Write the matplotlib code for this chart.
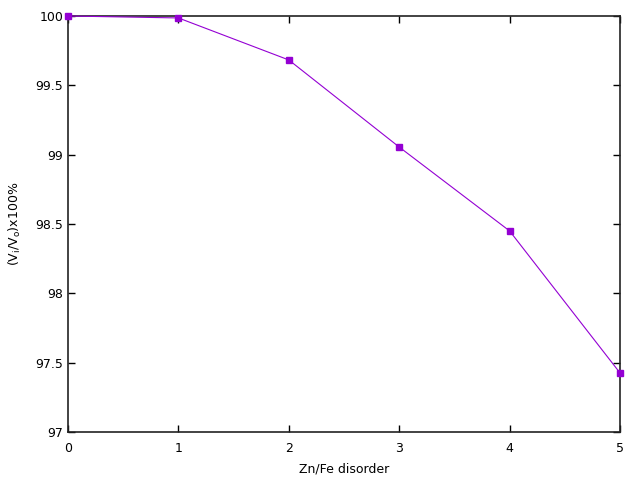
import matplotlib
matplotlib.use("Agg")
import matplotlib.pyplot as plt

x = [0, 1, 2, 3, 4, 5]
y = [100.0, 99.986, 99.683, 99.055, 98.45, 97.426]
xticks = [0, 1, 2, 3, 4, 5]
yticks = [97, 97.5, 98, 98.5, 99, 99.5, 100]
yticklabels = ["97", "97.5", "98", "98.5", "99", "99.5", "100"]

fig = plt.figure(figsize=(6.4, 4.8), dpi=100)
ax = fig.add_axes([68/640, 48/480, 552/640, 416/480])
ax.plot(x, y, color="#9400D3", linewidth=0.8, marker="s", markersize=5, clip_on=False, zorder=5)
ax.set_xlim(0, 5)
ax.set_ylim(97, 100)
ax.set_xticks(xticks)
ax.set_yticks(yticks)
ax.set_yticklabels(yticklabels)
ax.tick_params(direction="in", top=True, right=True, length=5, width=1, labelsize=9, colors="black")
ax.tick_params(axis="x", pad=7)
for s in ax.spines.values():
    s.set_linewidth(1.2)
    s.set_color("#222222")
ax.set_xlabel("Zn/Fe disorder", fontsize=9)
ax.set_ylabel("(V$_\\mathregular{i}$/V$_\\mathregular{o}$)x100%", fontsize=9)
ax.xaxis.set_label_coords(0.5, -0.073)
ax.yaxis.set_label_coords(-0.082, 0.5)
fig.savefig("out.png", dpi=100)
